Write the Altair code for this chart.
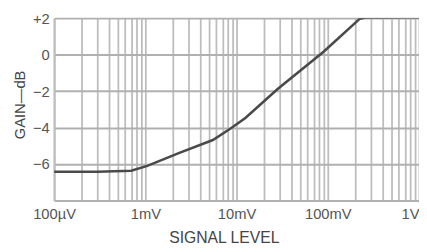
import altair as alt
import pandas as pd

# Curve (signal level in volts, gain in dB)
signal_v = [1e-4, 3e-4, 7e-4, 1.05e-3, 2.4e-3, 5.5e-3, 8.6e-3, 0.0125, 0.028, 0.09, 0.225, 0.26, 1.0]
gain_db = [-6.42, -6.42, -6.37, -6.1, -5.37, -4.68, -4.05, -3.47, -1.9, 0.16, 1.97, 2.03, 2.05]

x_tick_values = [1e-4, 1e-3, 1e-2, 1e-1, 1.0]
x_tick_labels = ["100\u00b5V", "1mV", "10mV", "100mV", "1V"]
y_tick_values = [-8, -6, -4, -2, 0, 2]
y_tick_labels = ["", "\u22126", "\u22124", "\u22122", "0", "+2"]

df = pd.DataFrame({"v": signal_v, "g": gain_db})

x_grid = [m * d for d in x_tick_values[:-1] for m in range(1, 10)] + [x_tick_values[-1]]

x_expr = " : ".join(
    f"datum.value == {v!r} ? '{l}'" for v, l in zip(x_tick_values, x_tick_labels)
) + " : ''"
y_expr = " : ".join(
    f"datum.value == {v} ? '{l}'" for v, l in zip(y_tick_values, y_tick_labels)
) + " : ''"

FONT = "Liberation Sans"
GRID = "#bdbdbd"

chart = (
    alt.Chart(df)
    .mark_line(color="#4a4a4a", strokeWidth=2.6, clip=True)
    .encode(
        x=alt.X(
            "v:Q",
            scale=alt.Scale(type="log", domain=[1e-4, 1.0], nice=False),
            axis=alt.Axis(
                values=x_grid,
                labelExpr=x_expr,
                title="SIGNAL LEVEL",
                grid=True,
                gridColor=GRID,
                gridWidth=1.8,
                ticks=False,
                domain=False,
                labelFont=FONT,
                labelFontSize=15,
                labelColor="#555555",
                labelPadding=6,
                labelBaseline="top",
                labelAlign={"condition": {"test": "datum.value >= 1", "value": "right"}, "value": "center"},
                labelFlush=False,
                labelOverlap=False,
                titleFont=FONT,
                titleFontSize=16,
                titleFontWeight="normal",
                titleColor="#444444",
                titleX=173,
                titleY=38,
                titleBaseline="middle",
                titleAlign="center",
            ),
        ),
        y=alt.Y(
            "g:Q",
            scale=alt.Scale(domain=[-8, 2], nice=False, zero=False),
            axis=alt.Axis(
                values=y_tick_values,
                labelExpr=y_expr,
                title="GAIN\u2014dB",
                grid=True,
                gridColor="#b0b0b0",
                gridWidth=2,
                ticks=False,
                domain=True,
                domainColor=GRID,
                domainWidth=2,
                labelFont=FONT,
                labelFontSize=15,
                labelColor="#555555",
                labelPadding=5,
                labelFlush=False,
                labelOverlap=False,
                titleFont=FONT,
                titleFontSize=15,
                titleFontWeight="normal",
                titleColor="#444444",
                titleAngle=-90,
                titleX=-35,
                titleY=88,
                titleBaseline="middle",
                titleAlign="center",
            ),
        ),
    )
    .properties(
        width=372,
        height=186,
        autosize=alt.AutoSizeParams(type="none"),
        padding={"left": 47, "top": 8, "right": 0, "bottom": 45},
    )
    .configure_view(stroke=GRID, strokeWidth=2)
    .configure(background="white")
)

chart.save("out.html", embed_options={"renderer": "svg", "actions": False})
